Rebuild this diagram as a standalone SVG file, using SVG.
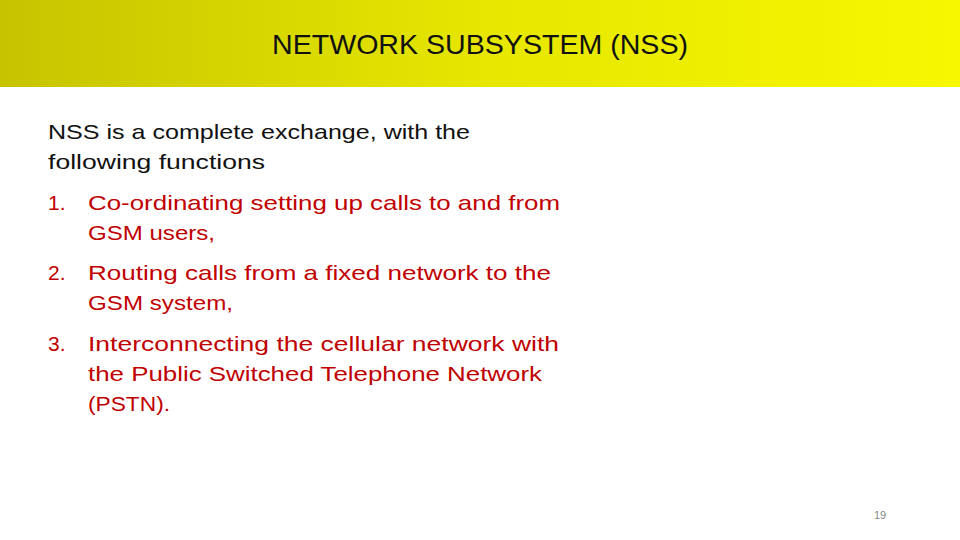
<svg xmlns="http://www.w3.org/2000/svg" width="960" height="540" viewBox="0 0 960 540">
<defs>
<linearGradient id="hdr" x1="0" y1="0" x2="1" y2="0">
<stop offset="0" stop-color="#c6c400"/>
<stop offset="0.5" stop-color="#e6e600"/>
<stop offset="1" stop-color="#f7f700"/>
</linearGradient>
<style>
text{font-family:"Liberation Sans",Arial,sans-serif}
.b{font-size:21px;fill:#111}
.r{font-size:21px;fill:#c00000}
</style>
</defs>
<rect width="960" height="540" fill="#fff"/>
<rect width="960" height="87" fill="url(#hdr)"/>
<text x="480" y="54" text-anchor="middle" font-size="28" fill="#111" textLength="416" lengthAdjust="spacingAndGlyphs">NETWORK SUBSYSTEM (NSS)</text>
<text class="b" x="48" y="139" textLength="422" lengthAdjust="spacingAndGlyphs">NSS is a complete exchange, with the</text>
<text class="b" x="48" y="169" textLength="217" lengthAdjust="spacingAndGlyphs">following functions</text>
<text class="r" x="48" y="210">1.</text>
<text class="r" x="88" y="210" textLength="472" lengthAdjust="spacingAndGlyphs">Co-ordinating setting up calls to and from</text>
<text class="r" x="88" y="240" textLength="127" lengthAdjust="spacingAndGlyphs">GSM users,</text>
<text class="r" x="48" y="280">2.</text>
<text class="r" x="88" y="280" textLength="463" lengthAdjust="spacingAndGlyphs">Routing calls from a fixed network to the</text>
<text class="r" x="88" y="310" textLength="145" lengthAdjust="spacingAndGlyphs">GSM system,</text>
<text class="r" x="48" y="351">3.</text>
<text class="r" x="88" y="351" textLength="471" lengthAdjust="spacingAndGlyphs">Interconnecting the cellular network with</text>
<text class="r" x="88" y="381" textLength="454" lengthAdjust="spacingAndGlyphs">the Public Switched Telephone Network</text>
<text class="r" x="88" y="411" textLength="82" lengthAdjust="spacingAndGlyphs">(PSTN).</text>
<text x="880" y="519" text-anchor="middle" font-size="11" fill="#888">19</text>
</svg>
